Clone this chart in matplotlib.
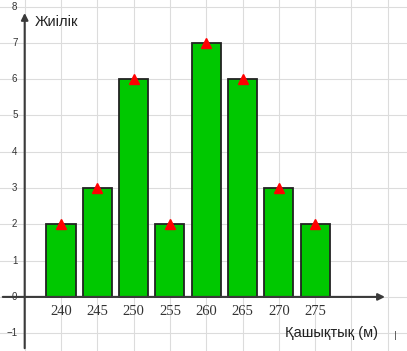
import matplotlib.pyplot as plt

distances = ["240", "245", "250", "255", "260", "265", "270", "275"]
frequencies = [2, 3, 6, 2, 7, 6, 3, 2]
y_ticks = [-1, 0, 1, 2, 3, 4, 5, 6, 7, 8]

positions = list(range(1, len(distances) + 1))

fig = plt.figure(figsize=(4.07, 3.51), dpi=100)
ax = fig.add_axes([0, 0, 1, 1])
ax.set_xlim(-0.68, 10.53)
ax.set_ylim(-1.49, 8.18)

# grid
ax.set_xticks(range(0, 11))
ax.set_yticks(y_ticks)
ax.grid(color="#dcdcdc", linewidth=0.8)
ax.tick_params(length=0, labelbottom=False, labelleft=False)
for s in ax.spines.values():
    s.set_visible(False)
ax.set_axisbelow(True)

# bars and triangles
ax.bar(positions, frequencies, width=0.8, color="#00c800",
       edgecolor="#222222", linewidth=1.3, zorder=3)
ax.plot(positions, frequencies, linestyle="none", marker="^",
        color="red", markersize=7, zorder=4)

# axes with arrows
ax.annotate("", xy=(10.0, 0), xytext=(-0.68, 0),
            arrowprops=dict(arrowstyle="-|>", color="#3a3a3a", lw=1.5,
                            mutation_scale=10), zorder=5)
ax.annotate("", xy=(0, 7.9), xytext=(0, -1.49),
            arrowprops=dict(arrowstyle="-|>", color="#3a3a3a", lw=1.5,
                            mutation_scale=10), zorder=5)

# tick labels
for v in y_ticks:
    lbl = str(v) if v >= 0 else "\u2212" + str(-v)
    ax.text(-0.2, v, lbl, ha="right", va="center", fontsize=7,
            color="#333333", family="Liberation Sans")
for p, d in zip(positions, distances):
    ax.text(p, -0.39, d, ha="center", va="center", fontsize=10.5,
            color="#333333", family="Liberation Serif")

# axis titles
ax.text(0.28, 7.57, "Жиілік", ha="left", va="center", fontsize=10.5,
        family="Liberation Sans", color="#222222")
ax.text(7.17, -0.99, "Қашықтық (м)", ha="left", va="center", fontsize=10.5,
        family="Liberation Sans", color="#222222")
ax.text(10.2, -1.05, "|", ha="center", va="center", fontsize=6,
        color="#333333")

fig.savefig("out.png", dpi=100)
